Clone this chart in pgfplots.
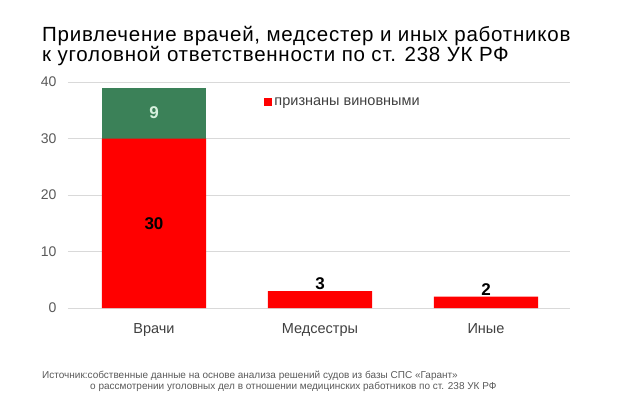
\documentclass[border=0pt]{standalone}
\usepackage{fontspec}
\setmainfont{Liberation Sans}
\usepackage{pgfplots}
\pgfplotsset{compat=1.18}

\definecolor{barred}{HTML}{FF0000}
\definecolor{bargreen}{HTML}{3B8158}
\definecolor{gridgray}{HTML}{D9D9D9}
\definecolor{ticktext}{HTML}{595959}
\definecolor{cattext}{HTML}{404040}
\definecolor{lightlabel}{HTML}{D6F0DD}

\begin{document}
\begin{tikzpicture}
\begin{axis}[
    at={(0,0)}, anchor=south west,
    scale only axis,
    width=502pt, height=226pt,
    ybar stacked,
    bar width=0.627,
    xmin=-0.518, xmax=2.506,
    ymin=0, ymax=40,
    xtick={0,1,2},
    xticklabels={Врачи, Медсестры, Иные},
    ytick={0,10,20,30,40},
    ymajorgrids,
    grid style={gridgray, line width=0.8pt},
    axis line style={draw=none},
    major tick length=0pt,
    /pgf/number format/assume math mode=true,
    yticklabel style={font=\fontsize{14}{16}\selectfont, text=ticktext, xshift=-8pt},
    xticklabel style={font=\fontsize{14.5}{16}\selectfont, text=cattext, yshift=-12pt},
    legend style={at={(0.391,0.91)}, anchor=west, draw=none, fill=none, inner sep=0pt,
        font=\fontsize{14.5}{16}\selectfont, text=cattext},
    legend cell align=left,
    legend image code/.code={\fill[barred] (0pt,-4pt) rectangle (8pt,4pt);},
    clip=false,
]
\addplot[fill=barred, draw=none] coordinates {(0,30) (1,3) (2,2)};
\addlegendentry{признаны виновными}
\addplot[fill=bargreen, draw=none, forget plot] coordinates {(0,9) (1,0) (2,0)};

\coordinate (l30) at (axis cs:0,15);
\coordinate (l9) at (axis cs:0,34.5);
\coordinate (l3) at (axis cs:1,3);
\coordinate (l2) at (axis cs:2,2);
\end{axis}

\node[font=\fontsize{17}{18}\bfseries, text=black] at (l30) {30};
\node[font=\fontsize{17}{18}\bfseries, text=lightlabel] at (l9) {9};
\node[font=\fontsize{17}{18}\bfseries, text=black, anchor=south, inner sep=1pt] at (l3) {3};
\node[font=\fontsize{17}{18}\bfseries, text=black, anchor=south, inner sep=1pt] at (l2) {2};

\node[anchor=base west, inner sep=0pt,
    font=\fontsize{20.5}{20}\selectfont\addfontfeature{LetterSpace=3.7}, text=black]
    at (-26pt,266.5pt) {Привлечение врачей, медсестер и иных работников};
\node[anchor=base west, inner sep=0pt,
    font=\fontsize{20.5}{20}\selectfont\addfontfeature{LetterSpace=3.7}, text=black]
    at (-26pt,246.5pt) {к уголовной ответственности по ст. 238 УК РФ};

\node[anchor=west, inner sep=0pt, font=\fontsize{10}{11}\selectfont, text=ticktext]
    at (-26pt,-68pt) {Источник:собственные данные на основе анализа решений судов из базы СПС «Гарант»};
\node[anchor=west, inner sep=0pt, font=\fontsize{10}{11}\selectfont, text=ticktext]
    at (22pt,-79pt) {о рассмотрении уголовных дел в отношении медицинских работников по ст. 238 УК РФ};

\path[use as bounding box] (-68pt,-99pt) rectangle (558pt,308pt);
\end{tikzpicture}
\end{document}
